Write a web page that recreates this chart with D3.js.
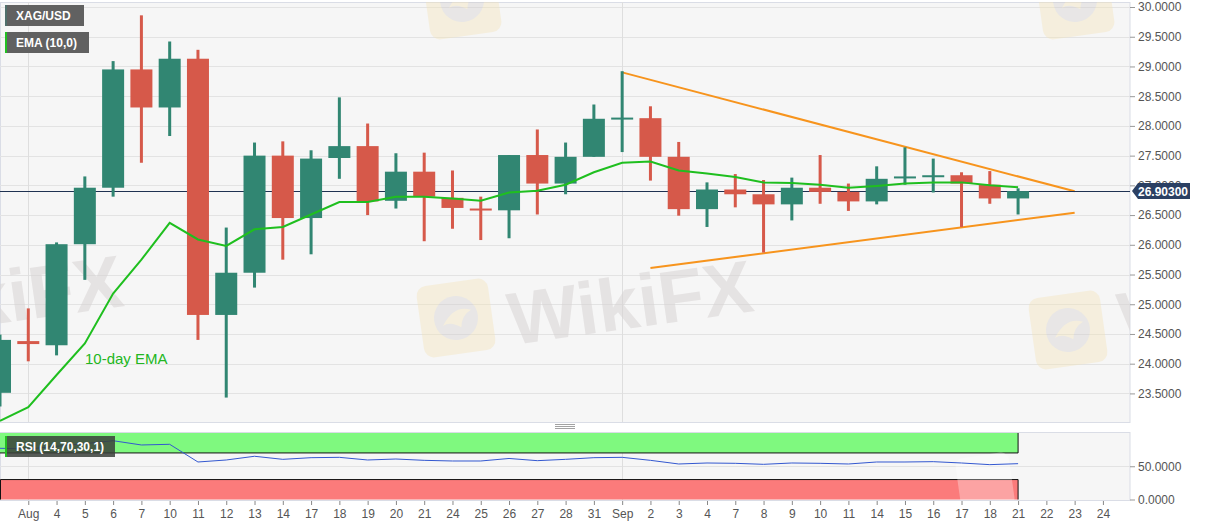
<!DOCTYPE html>
<html>
<head>
<meta charset="utf-8">
<script src="https://cdn.jsdelivr.net/npm/d3@7"></script>
<style>
  body { margin: 0; background: #fff; font-family: "Liberation Sans", Arial, sans-serif; }
  svg { display: block; }
  .tick text { font-family: "Liberation Sans", Arial, sans-serif; }
</style>
</head>
<body>
<svg id="chart" width="1207" height="526"></svg>
<script>
// trading days (last three are empty future slots)
const dates = ['Jul 31','Aug 3','Aug 4','Aug 5','Aug 6','Aug 7','Aug 10','Aug 11','Aug 12','Aug 13','Aug 14',
  'Aug 17','Aug 18','Aug 19','Aug 20','Aug 21','Aug 24','Aug 25','Aug 26','Aug 27','Aug 28','Aug 31',
  'Sep 1','Sep 2','Sep 3','Sep 4','Sep 7','Sep 8','Sep 9','Sep 10','Sep 11','Sep 14','Sep 15','Sep 16',
  'Sep 17','Sep 18','Sep 21','Sep 22','Sep 23','Sep 24'];
const tickLabels = ['','Aug','4','5','6','7','10','11','12','13','14','17','18','19','20','21','24','25','26','27','28','31',
  'Sep','2','3','4','7','8','9','10','11','14','15','16','17','18','21','22','23','24'];

const open  = [23.51,24.38,24.31,26.01,26.96,28.95,28.31,29.13,24.82,25.53,27.50,26.45,27.46,27.66,26.74,27.23,26.79,26.61,26.58,27.51,
  27.03,27.48,28.12,28.13,27.48,26.60,26.93,26.85,26.68,26.96,26.89,26.73,27.13,27.15,27.17,27.01,26.78];
const high  = [24.49,24.93,26.04,27.15,29.09,29.86,29.42,29.28,26.29,27.72,27.74,27.59,28.48,28.04,27.54,27.55,27.25,26.81,27.51,27.94,
  27.72,28.36,28.92,28.33,27.73,27.05,27.19,27.09,27.13,27.51,27.03,27.32,27.64,27.45,27.22,27.24,26.95];
const low   = [23.28,24.04,24.14,25.41,26.81,27.38,27.83,24.40,23.43,25.28,25.75,25.84,27.11,26.50,26.61,26.06,26.27,26.08,26.11,26.51,
  26.85,27.48,27.56,27.08,26.49,26.30,26.63,25.87,26.41,26.69,26.57,26.68,27.01,26.88,26.30,26.69,26.51];
const close = [24.40,24.33,26.01,26.96,28.95,28.31,29.13,24.82,25.53,27.50,26.45,27.45,27.66,26.73,27.23,26.81,26.62,26.59,27.51,27.03,
  27.48,28.12,28.14,27.48,26.60,26.93,26.85,26.68,26.96,26.89,26.73,27.11,27.15,27.17,27.03,26.78,26.903];

const ema10 = [23.04,23.27,23.81,24.34,25.18,25.75,26.37,26.09,25.98,26.26,26.30,26.51,26.72,26.72,26.81,26.81,26.78,26.74,26.88,26.91,
  27.01,27.22,27.38,27.40,27.25,27.20,27.14,27.05,27.04,27.01,26.96,26.99,27.03,27.05,27.05,27.00,26.97];
const rsi14 = [77,76,80,84,88.4,82,83,56.4,59.4,65,60.4,62.9,63.4,59.4,60.9,58.9,57.9,57.9,61.7,58.4,
  60.4,62.9,63.4,58.9,53.4,54.9,54.4,52.9,54.9,54.4,53.4,56.4,56.4,56.9,54.9,52.4,53.9];

const upperTrend = [{ date: 'Sep 1', value: 28.90 }, { date: 'Sep 23', value: 26.90 }];
const lowerTrend = [{ date: 'Sep 2', value: 25.61 }, { date: 'Sep 23', value: 26.54 }];

const priceTicks = [23.5,24,24.5,25,25.5,26,26.5,27,27.5,28,28.5,29,29.5,30];
const rsiTicks = [0, 50];
const lastPrice = 26.903;
const monthStarts = ['Aug 3', 'Sep 1'];

// colours
const UP = '#318672', DOWN = '#d6594a', BG = '#f6f6f6', GRID = '#e3e3e3';

const svg = d3.select('#chart');

// layout
const panelRight = 1130;
const main = { top: 2, bottom: 422 };
const rsiPanel = { top: 432, bottom: 500 };

const x = d3.scalePoint().domain(dates).range([0, 39 * 28.28]);
const y = d3.scaleLinear().domain([23.019, 30.118]).range([main.bottom, 0]);
const yRsi = d3.scaleLinear().domain([0, 100]).range([499.5, 433]);

const candles = close.map((c, i) => ({ date: dates[i], o: open[i], h: high[i], l: low[i], c: c, ema: ema10[i], rsi: rsi14[i] }));

// clip paths
const defs = svg.append('defs');
defs.append('clipPath').attr('id', 'clipMain').append('rect')
    .attr('x', 0).attr('y', main.top).attr('width', panelRight).attr('height', main.bottom - main.top);
defs.append('clipPath').attr('id', 'clipRsi').append('rect')
    .attr('x', 0).attr('y', rsiPanel.top).attr('width', panelRight).attr('height', rsiPanel.bottom - rsiPanel.top);

// ---------- main panel ----------
svg.append('rect')
    .attr('x', 0.5).attr('y', main.top + 0.5)
    .attr('width', panelRight - 0.5).attr('height', main.bottom - main.top)
    .attr('fill', BG).attr('stroke', '#dadde6');

const gMain = svg.append('g').attr('clip-path', 'url(#clipMain)');

gMain.selectAll('.hgrid').data(priceTicks).join('line')
    .attr('class', 'hgrid')
    .attr('x1', 0).attr('x2', panelRight)
    .attr('y1', d => Math.round(y(d)) + 0.5).attr('y2', d => Math.round(y(d)) + 0.5)
    .attr('stroke', GRID);

gMain.selectAll('.vgrid').data(monthStarts).join('line')
    .attr('class', 'vgrid')
    .attr('x1', d => Math.round(x(d)) + 0.5).attr('x2', d => Math.round(x(d)) + 0.5)
    .attr('y1', main.top).attr('y2', main.bottom)
    .attr('stroke', '#dedede');

// watermark (faint logo + text)
const drawMark = (g, cx, cy, s) => {
    const m = g.append('g').attr('transform', `translate(${cx},${cy}) rotate(-8) scale(${s})`).attr('opacity', 0.4);
    m.append('rect').attr('x', -36).attr('y', -36).attr('width', 72).attr('height', 72).attr('rx', 10)
        .attr('fill', '#f4e4b8');
    m.append('circle').attr('r', 22).attr('fill', '#d4cfcf');
    m.append('path').attr('d', 'M-14,6 Q0,-14 16,-6 Q6,-2 4,10 Q-6,2 -14,6 Z').attr('fill', '#f4e4b8');
};
const wm = gMain.append('g');
drawMark(wm, 456, 318, 1);
drawMark(wm, 1068, 330, 1);
drawMark(wm, 462, 0, 1);
drawMark(wm, 1075, 0, 1);
[[-118, 340], [512, 345], [1122, 345]].forEach(([tx, ty]) => {
    wm.append('text')
        .attr('transform', `translate(${tx},${ty}) rotate(-8)`)
        .attr('font-size', 74).attr('font-weight', 'bold')
        .attr('fill', '#d8d4d4').attr('opacity', 0.55)
        .text('WikiFX');
});

// trend lines
const trend = d3.line().x(d => x(d.date)).y(d => y(d.value));
[upperTrend, lowerTrend].forEach(t => {
    gMain.append('path').datum(t).attr('d', trend)
        .attr('fill', 'none').attr('stroke', '#f7941d').attr('stroke-width', 2);
});

// current price line
gMain.append('line')
    .attr('x1', 0).attr('x2', panelRight)
    .attr('y1', Math.round(y(lastPrice)) + 0.5).attr('y2', Math.round(y(lastPrice)) + 0.5)
    .attr('stroke', '#1f3252').attr('stroke-width', 1);

// candles
const bodyW = 22;
const cg = gMain.selectAll('.candle').data(candles).join('g')
    .attr('class', 'candle');

cg.append('rect')
    .attr('x', d => x(d.date) - 1.5).attr('width', 3)
    .attr('y', d => y(d.h)).attr('height', d => y(d.l) - y(d.h))
    .attr('fill', d => d.c >= d.o ? UP : DOWN);

cg.append('rect')
    .attr('x', d => x(d.date) - bodyW / 2).attr('width', bodyW)
    .attr('y', d => y(Math.max(d.o, d.c)))
    .attr('height', d => Math.max(2, Math.abs(y(d.o) - y(d.c))))
    .attr('fill', d => d.c >= d.o ? UP : DOWN);

// EMA
gMain.append('path').datum(candles)
    .attr('d', d3.line().x(d => x(d.date)).y(d => y(d.ema)))
    .attr('fill', 'none').attr('stroke', '#1fbf1f').attr('stroke-width', 2);

svg.append('text')
    .attr('x', 85).attr('y', 364)
    .attr('font-size', 15).attr('fill', '#22b622')
    .text('10-day EMA');

// legends
const legend = (lx, ly, w, label, accent, fill) => {
    svg.append('rect').attr('x', lx).attr('y', ly).attr('width', w).attr('height', 21).attr('fill', fill);
    svg.append('rect').attr('x', lx).attr('y', ly).attr('width', 2).attr('height', 21).attr('fill', accent);
    svg.append('text').attr('x', lx + 11).attr('y', ly + 15)
        .attr('font-size', 12).attr('font-weight', 'bold').attr('fill', '#fff').text(label);
};
legend(5, 5, 79, 'XAG/USD', '#4f6f6b', '#616161');
legend(5, 32, 84, 'EMA (10,0)', '#22c022', '#616161');

// right price axis
const yAxis = svg.append('g')
    .attr('transform', `translate(${panelRight},0)`)
    .call(d3.axisRight(y).tickValues(priceTicks).tickFormat(d3.format('.4f')).tickSize(5).tickPadding(3));
yAxis.select('.domain').remove();
yAxis.selectAll('.tick line').attr('stroke', '#999');
yAxis.selectAll('.tick text').attr('fill', '#555').attr('font-size', 12);

// last price tag
const py = y(lastPrice);
svg.append('path')
    .attr('d', `M${panelRight + 2},${py} L${panelRight + 8},${py - 8} H1190 V${py + 8} H${panelRight + 8} Z`)
    .attr('fill', '#2b4063');
svg.append('text')
    .attr('x', 1163).attr('y', py + 4.5).attr('text-anchor', 'middle')
    .attr('font-size', 12).attr('font-weight', 'bold').attr('fill', '#fff')
    .text(d3.format('.5f')(lastPrice));

// panel splitter handle
[424.5, 426.5, 428.5].forEach(hy => {
    svg.append('line').attr('x1', 555).attr('x2', 575).attr('y1', hy).attr('y2', hy)
        .attr('stroke', '#8a8a8a').attr('stroke-width', 0.8);
});

// ---------- RSI panel ----------
svg.append('rect')
    .attr('x', 0.5).attr('y', rsiPanel.top + 0.5)
    .attr('width', panelRight - 0.5).attr('height', rsiPanel.bottom - rsiPanel.top)
    .attr('fill', BG).attr('stroke', '#dadde6');

const gRsi = svg.append('g').attr('clip-path', 'url(#clipRsi)');
const lastX = x(dates[close.length - 1]);

gRsi.selectAll('.rgrid').data(rsiTicks).join('line')
    .attr('x1', 0).attr('x2', panelRight)
    .attr('y1', d => Math.round(yRsi(d)) + 0.5).attr('y2', d => Math.round(yRsi(d)) + 0.5)
    .attr('stroke', GRID);
gRsi.selectAll('.rvgrid').data(monthStarts).join('line')
    .attr('x1', d => Math.round(x(d)) + 0.5).attr('x2', d => Math.round(x(d)) + 0.5)
    .attr('y1', rsiPanel.top).attr('y2', rsiPanel.bottom)
    .attr('stroke', '#dedede');

// overbought / oversold bands
gRsi.append('rect')
    .attr('x', 0).attr('width', lastX)
    .attr('y', yRsi(100)).attr('height', yRsi(70) - yRsi(100))
    .attr('fill', '#7ff97f');
gRsi.append('rect')
    .attr('x', 0).attr('width', lastX)
    .attr('y', yRsi(30)).attr('height', yRsi(0) - yRsi(30))
    .attr('fill', '#fb7b7b');
gRsi.append('path')
    .attr('d', `M0,${yRsi(70)} H${lastX} V${yRsi(100)} M0.5,${yRsi(0)} V${yRsi(30)} H${lastX} V${yRsi(0)}`)
    .attr('fill', 'none').attr('stroke', '#111').attr('stroke-width', 1);

// faint logo over the bands
const rm = gRsi.append('g').attr('transform', 'translate(985,482) rotate(-8)').attr('opacity', 0.3);
rm.append('rect').attr('x', -27).attr('y', -27).attr('width', 54).attr('height', 54).attr('rx', 8).attr('fill', '#fff');

gRsi.append('path').datum(candles)
    .attr('d', d3.line().x(d => x(d.date)).y(d => yRsi(d.rsi)))
    .attr('fill', 'none').attr('stroke', '#3358d0').attr('stroke-width', 1);

// RSI legend
svg.append('rect').attr('x', 5).attr('y', 436).attr('width', 110).attr('height', 21)
    .attr('fill', '#3a3f3a').attr('opacity', 0.85);
svg.append('rect').attr('x', 5).attr('y', 436).attr('width', 2).attr('height', 21).attr('fill', '#22c022');
svg.append('text').attr('x', 16).attr('y', 451)
    .attr('font-size', 12).attr('font-weight', 'bold').attr('fill', '#fff').text('RSI (14,70,30,1)');

const rAxis = svg.append('g')
    .attr('transform', `translate(${panelRight},0)`)
    .call(d3.axisRight(yRsi).tickValues(rsiTicks).tickFormat(d3.format('.4f')).tickSize(5).tickPadding(3));
rAxis.select('.domain').remove();
rAxis.selectAll('.tick line').attr('stroke', '#999');
rAxis.selectAll('.tick text').attr('fill', '#555').attr('font-size', 12);

// date axis
const xAxis = svg.append('g')
    .attr('transform', `translate(0,${rsiPanel.bottom + 1})`)
    .call(d3.axisBottom(x).tickValues(dates.slice(1))
        .tickFormat(d => tickLabels[dates.indexOf(d)]).tickSize(4).tickPadding(4));
xAxis.select('.domain').remove();
xAxis.selectAll('.tick line').attr('stroke', '#888');
xAxis.selectAll('.tick text').attr('fill', '#555').attr('font-size', 12);
</script>
</body>
</html>
